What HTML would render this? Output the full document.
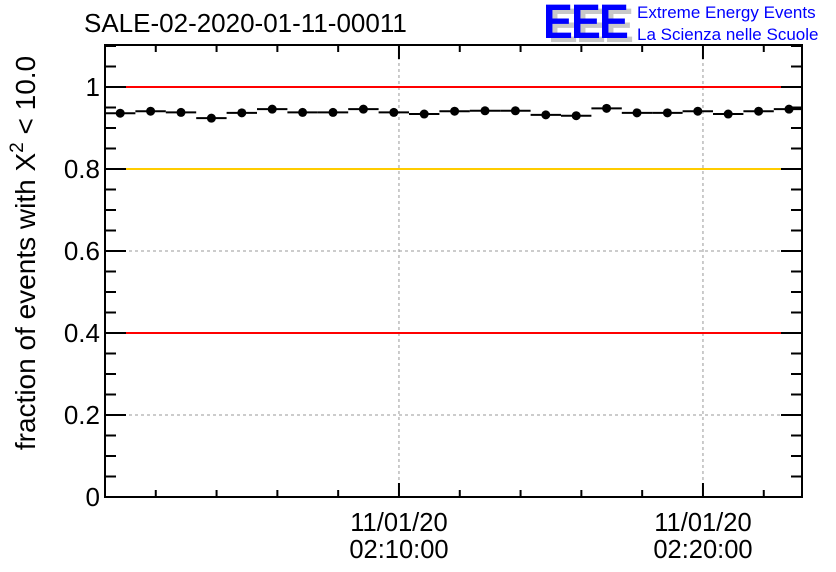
<!DOCTYPE html>
<html><head><meta charset="utf-8"><style>
body{margin:0;background:#fff;}
svg{display:block;font-family:"Liberation Sans",sans-serif;}
</style></head><body>
<svg id="chart" width="836" height="572" viewBox="0 0 836 572">
<text x="84" y="32" font-size="26" fill="#000">SALE-02-2020-01-11-00011</text>
<g>
<text x="548" y="42" font-size="48" font-weight="bold" fill="#c8c8c8" letter-spacing="-2" textLength="84" lengthAdjust="spacingAndGlyphs">EEE</text>
<text x="543" y="38" font-size="48" font-weight="bold" fill="#0000ff" letter-spacing="-2" textLength="84" lengthAdjust="spacingAndGlyphs">EEE</text>
<text x="637" y="18" font-size="17" fill="#0000ff">Extreme Energy Events</text>
<text x="637" y="40" font-size="17" fill="#0000ff">La Scienza nelle Scuole</text>
</g>
<text transform="translate(35,253) rotate(-90)" text-anchor="middle" font-size="28" fill="#000">fraction of events with X<tspan dy="-12" font-size="19">2</tspan><tspan dy="12"> &lt; 10.0</tspan></text>
<g id="plot"></g>
</svg>
<script>
const values=[0.936,0.941,0.938,0.924,0.937,0.946,0.938,0.938,0.946,0.938,0.934,0.941,0.942,0.942,0.932,0.930,0.948,0.937,0.937,0.941,0.934,0.941,0.946];
const yTicks=[0,0.2,0.4,0.6,0.8,1];
const yTickLabels=["0","0.2","0.4","0.6","0.8","1"];
const xTickMinutes=[10,20];
const xTickLabels=[["11/01/20","02:10:00"],["11/01/20","02:20:00"]];
const refLines=[1.0,0.8,0.4];
const refColors=["#ff0000","#ffcc00","#ff0000"];

const L=105,R=802,T=45,B=497;
const x0min=0.33;
const pxPerMin=30.4;
const X=m=>L+(m-x0min)*pxPerMin;
const Y=v=>B-v*410;
const NS="http://www.w3.org/2000/svg";
const g=document.getElementById('plot');
function mk(tag,attrs,parent){const e=document.createElementNS(NS,tag);for(const k in attrs)e.setAttribute(k,attrs[k]);(parent||g).appendChild(e);return e;}

yTicks.forEach(v=>{if(v>0){const l=mk('line',{x1:L,x2:R,y1:Y(v),y2:Y(v),stroke:'#999','stroke-dasharray':'3,3','stroke-width':1});

}});
xTickMinutes.forEach(m=>{const l=mk('line',{x1:X(m),x2:X(m),y1:T,y2:B,stroke:'#999','stroke-dasharray':'3,3','stroke-width':1});

});
refLines.forEach((v,i)=>{const l=mk('line',{x1:L,x2:R,y1:Y(v),y2:Y(v),stroke:refColors[i],'stroke-width':2});

});
const dg=mk('g',{});


values.forEach((v,i)=>{
  const c=x0min+0.5+i, xa=X(c-0.5), xb=Math.min(X(c+0.5),R);
  const h=mk('line',{x1:xa,x2:xb,y1:Y(v),y2:Y(v),stroke:'#000','stroke-width':2},dg);
  
  
  const p=mk('circle',{cx:X(c),cy:Y(v),r:4.5,fill:'#000'},dg);
  
  
});
const fr=mk('rect',{x:L,y:T,width:R-L,height:B-T,fill:'none',stroke:'#000','stroke-width':2});


for(let k=0;k<=22;k++){const v=k*0.05;if(Y(v)<T)break;const major=k%4===0;const len=major?21:11;
  const a=mk('line',{x1:L,x2:L+len,y1:Y(v),y2:Y(v),stroke:'#000','stroke-width':2});
  
  
  const b=mk('line',{x1:R,x2:R-len,y1:Y(v),y2:Y(v),stroke:'#000','stroke-width':2});
  
  }
yTicks.forEach((v,i)=>{const t=mk('text',{x:L-5,y:Y(v)+9,'text-anchor':'end','font-size':26,fill:'#000'});t.textContent=yTickLabels[i];
  
  });
for(let m=2;m<=22;m+=2){const xx=X(m);if(xx>R)break;const major=m%10===0;const len=major?14:7;
  const a=mk('line',{x1:xx,x2:xx,y1:B,y2:B-len,stroke:'#000','stroke-width':2});
  
  
  const b=mk('line',{x1:xx,x2:xx,y1:T,y2:T+len,stroke:'#000','stroke-width':2});
  
  }
xTickMinutes.forEach((m,i)=>{xTickLabels[i].forEach((s,j)=>{const t=mk('text',{x:X(m),y:531+j*27,'text-anchor':'middle','font-size':25.5,fill:'#000'});t.textContent=s;
  
  });});
</script>
</body></html>
